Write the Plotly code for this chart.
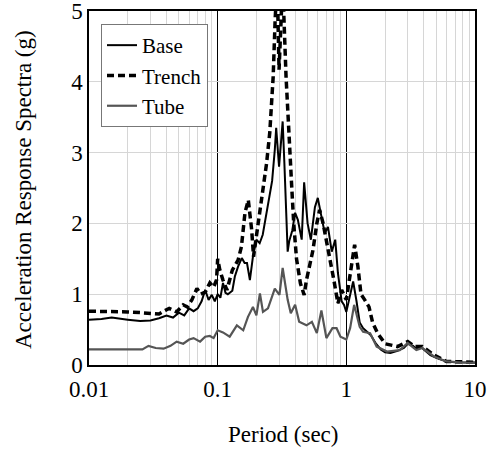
import plotly.graph_objects as go

# ---- data ----
base_T = [0.01, 0.0125, 0.015, 0.0175, 0.02, 0.025, 0.03, 0.035, 0.04, 0.045, 0.05, 0.055, 0.06, 0.065,
          0.07, 0.075, 0.08, 0.085, 0.09, 0.095, 0.1, 0.105, 0.11, 0.115, 0.12, 0.13, 0.136, 0.144, 0.154,
          0.162, 0.169, 0.178, 0.188, 0.2, 0.212, 0.224, 0.24, 0.254, 0.265, 0.278, 0.285, 0.3, 0.32, 0.33,
          0.35, 0.36, 0.38, 0.4, 0.42, 0.45, 0.47, 0.5, 0.53, 0.57, 0.6, 0.64, 0.68, 0.72, 0.77, 0.82, 0.86,
          0.92, 0.96, 1.0, 1.06, 1.13, 1.2, 1.27, 1.35, 1.45, 1.55, 1.7, 1.85, 2.0, 2.2, 2.5, 2.8, 3.0, 3.3,
          3.5, 3.8, 4.0, 4.5, 5.0, 6.0, 7.0, 8.0, 10.0]
base_Sa = [0.64, 0.65, 0.67, 0.65, 0.64, 0.62, 0.63, 0.66, 0.70, 0.67, 0.74, 0.70, 0.80, 0.76,
           0.80, 0.90, 1.06, 0.92, 0.99, 0.90, 1.00, 0.95, 1.16, 1.02, 1.00, 1.05, 1.25, 1.39, 1.51,
           1.44, 1.44, 1.20, 1.53, 1.77, 1.72, 1.84, 2.15, 2.38, 2.60, 3.04, 3.35, 2.80, 3.44, 2.85,
           1.60, 1.75, 1.90, 2.15, 2.05, 1.77, 2.58, 2.00, 1.77, 2.23, 2.36, 2.10, 1.86, 1.95, 1.60, 1.77, 1.30,
           0.90, 0.85, 0.75, 0.96, 1.18, 0.90, 0.60, 0.52, 0.47, 0.42, 0.30, 0.22, 0.18, 0.17, 0.20, 0.24, 0.30, 0.27,
           0.23, 0.26, 0.22, 0.14, 0.10, 0.05, 0.04, 0.035, 0.035]

trench_T = [0.01, 0.015, 0.02, 0.025, 0.03, 0.035, 0.04, 0.042, 0.048, 0.054, 0.058, 0.063, 0.069, 0.074,
            0.08, 0.087, 0.093, 0.098, 0.1, 0.104, 0.11, 0.118, 0.13, 0.144, 0.153, 0.163, 0.173, 0.184,
            0.19, 0.2, 0.22, 0.225, 0.24, 0.254, 0.27, 0.28, 0.29, 0.3, 0.32, 0.34, 0.35, 0.36, 0.375, 0.39,
            0.41, 0.44, 0.47, 0.49, 0.52, 0.55, 0.59, 0.62, 0.66, 0.7, 0.74, 0.8, 0.86, 0.92, 1.0, 1.1, 1.16,
            1.23, 1.3, 1.39, 1.5, 1.6, 1.75, 2.0, 2.5, 3.0, 3.4, 3.9, 4.8, 6.0, 8.0, 10.0]
trench_Sa = [0.76, 0.76, 0.75, 0.74, 0.73, 0.72, 0.78, 0.80, 0.75, 0.85, 0.82, 0.92, 1.08, 1.00,
             1.03, 1.16, 1.10, 1.20, 1.50, 1.34, 1.20, 1.06, 1.34, 1.48, 1.67, 2.15, 2.33, 1.90,
             1.53, 1.81, 2.33, 2.43, 2.85, 3.28, 4.07, 4.90, 5.40, 4.17, 5.40, 4.07, 3.60, 3.04, 2.57, 2.00,
             1.50, 1.15, 0.99, 1.20, 1.44, 1.62, 2.00, 2.19, 2.00, 1.77, 1.53, 1.20, 0.87, 1.06, 0.92, 1.48, 1.70,
             1.39, 1.00, 0.92, 0.82, 0.60, 0.45, 0.30, 0.26, 0.33, 0.26, 0.26, 0.14, 0.05, 0.04, 0.04]

tube_T = [0.01, 0.015, 0.02, 0.026, 0.029, 0.033, 0.038, 0.043, 0.048, 0.054, 0.06, 0.065, 0.073, 0.08,
          0.087, 0.093, 0.1, 0.11, 0.124, 0.141, 0.158, 0.172, 0.188, 0.2, 0.213, 0.225, 0.246, 0.278, 0.302,
          0.32, 0.35, 0.37, 0.4, 0.43, 0.49, 0.54, 0.59, 0.64, 0.7, 0.78, 0.84, 0.9, 1.0, 1.07, 1.15, 1.27,
          1.35, 1.53, 1.72, 2.07, 2.6, 3.0, 3.5, 3.9, 4.8, 6.0, 8.0, 10.0]
tube_Sa = [0.22, 0.22, 0.23, 0.22, 0.27, 0.24, 0.23, 0.27, 0.33, 0.30, 0.36, 0.38, 0.33, 0.40,
           0.41, 0.38, 0.49, 0.46, 0.40, 0.56, 0.49, 0.68, 0.82, 0.70, 1.01, 0.75, 0.80, 1.08, 0.99,
           1.37, 0.92, 0.73, 0.85, 0.61, 0.56, 0.61, 0.45, 0.77, 0.38, 0.52, 0.52, 0.40, 0.36, 0.52, 0.85, 0.54,
           0.47, 0.45, 0.26, 0.19, 0.21, 0.31, 0.21, 0.24, 0.12, 0.05, 0.035, 0.03]

x_ticks = [0.01, 0.1, 1, 10]
x_tick_text = ["0.01", "0.1", "1", "10"]
y_ticks = [0, 1, 2, 3, 4, 5]
minor_vals = [m * d for d in (0.01, 0.1, 1) for m in range(2, 10)]
x_title = "Period (sec)"
y_title = "Acceleration Response Spectra (g)"

FONT = "Liberation Serif, Times New Roman, serif"
W, H = 491, 450
L, R, T, B = 89, 16, 11, 85
PW, PH = W - L - R, H - T - B

fig = go.Figure()
fig.add_trace(go.Scatter(x=base_T, y=base_Sa, name="Base", mode="lines",
                         line=dict(color="black", width=2)))
fig.add_trace(go.Scatter(x=trench_T, y=trench_Sa, name="Trench", mode="lines",
                         line=dict(color="black", width=3.5, dash="7px,4px")))
fig.add_trace(go.Scatter(x=tube_T, y=tube_Sa, name="Tube", mode="lines",
                         line=dict(color="#555555", width=2.2)))

fig.update_layout(
    width=W, height=H,
    margin=dict(l=L, r=R, t=T, b=B, autoexpand=False),
    paper_bgcolor="white", plot_bgcolor="white",
    font=dict(family=FONT, size=23, color="black"),
    showlegend=True,
    legend=dict(x=(101 - L) / PW, y=(H - B - 24) / PH, xanchor="left", yanchor="top",
                bgcolor="white", bordercolor="#777777", borderwidth=1,
                font=dict(family=FONT, size=21), tracegroupgap=0,
                itemwidth=30),
    xaxis=dict(type="log", range=[-2, 1], automargin=False,
               tickvals=x_ticks, ticktext=x_tick_text,
               ticks="outside", ticklen=3, tickcolor="rgba(0,0,0,0)",
               ticklabeloverflow="allow",
               showgrid=True, gridcolor="black", gridwidth=1,
               minor=dict(tickvals=minor_vals, showgrid=True, gridcolor="#d6d6d6", gridwidth=1, ticks=""),
               showline=True, linecolor="black", linewidth=1.5, mirror=True,
               tickfont=dict(family=FONT, size=23), zeroline=False),
    yaxis=dict(range=[0, 5], tickvals=y_ticks, automargin=False, ticks="",
               ticklabeloverflow="allow",
               showgrid=True, gridcolor="#d6d6d6", gridwidth=1,
               showline=True, linecolor="black", linewidth=1.5, mirror=True,
               tickfont=dict(family=FONT, size=23), zeroline=False),
    annotations=[
        dict(text=x_title, xref="paper", yref="paper",
             x=(283 - L) / PW, y=-(434 - (H - B)) / PH,
             xanchor="center", yanchor="middle", showarrow=False,
             font=dict(family=FONT, size=23)),
        dict(text=y_title, xref="paper", yref="paper",
             x=-(L - 23) / PW, y=(H - B - 190) / PH,
             xanchor="center", yanchor="middle", showarrow=False, textangle=-90,
             font=dict(family=FONT, size=23)),
    ],
)

fig.write_html("out.html", config={"displayModeBar": False},
               post_script="document.body.style.margin='0';document.body.style.overflow='hidden';")
